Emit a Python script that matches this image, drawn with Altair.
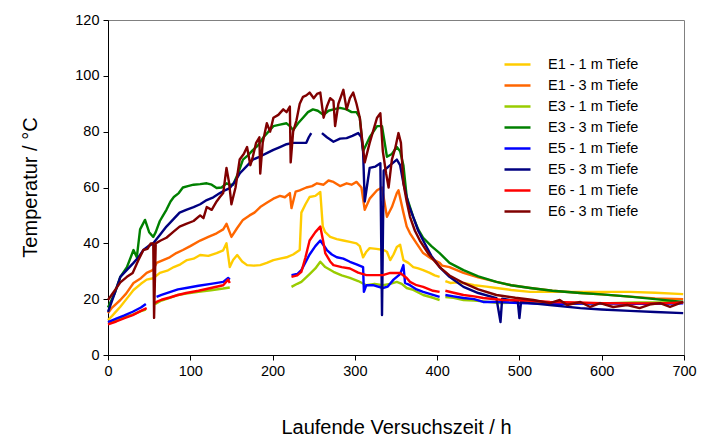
import altair as alt
import pandas as pd

# Legend / series names (in draw & legend order)
series_names = ["E1 - 1 m Tiefe", "E1 - 3 m Tiefe", "E3 - 1 m Tiefe", "E3 - 3 m Tiefe",
                "E5 - 1 m Tiefe", "E5 - 3 m Tiefe", "E6 - 1 m Tiefe", "E6 - 3 m Tiefe"]
series_colors = ["#FFCC00", "#FF6600", "#99CC00", "#008000",
                 "#0000FF", "#000080", "#FF0000", "#800000"]

# None marks a gap in the record
E1_1_h = [0, 5, 15, 25, 31, 40, 47, 55, 63, 72, 80, 88, 96, 104, 112, 122, 132, 140, 144, 148, 152, 157, 163, 169,
          177, 185, 193, 201, 209, 217, 225, 233, 235, 240, 245, 252, 258, 261, 264, 270, 278, 286, 294, 302, 306,
          310, 314, 318, 326, 335, 339, 343, 347, 351, 355, 359, 365, 371, 377, 383, 391, 397, 403, None,
          410, 416, 424, 432, 445, 460, 472, 490, 513, 540, 574, 600, 634, 665, 699]
E1_1_t = [12.5, 14, 17.3, 21, 23.3, 25.5, 27, 27.5, 29.4, 30.2, 31.5, 32.5, 34, 34.5, 35.8, 35.5, 36.5, 37.5, 40,
          31.5, 34, 35.8, 33.5, 32.2, 32, 32.2, 33, 34, 34.5, 35, 36, 37.6, 51, 54, 56.6, 57, 58.4, 46, 44, 42.3,
          41.5, 41, 40.5, 40, 39, 35, 37, 38.3, 38, 37.6, 37, 34, 36, 38.7, 39.5, 34, 33, 31.5, 31, 30.4, 29.4,
          28.5, 28, None, 26.5, 25.8, 26, 25.8, 25, 24.5, 24, 23.3, 22.6, 22.6, 22.6, 22.6, 22.6, 22.3, 21.8]

E1_3_h = [0, 5, 15, 22, 31, 40, 47, 55, 59, 67, 75, 83, 91, 100, 112, 122, 132, 140, 144, 150, 157, 164, 172, 178,
          185, 193, 201, 209, 215, 221, 223, 228, 233, 241, 248, 254, 262, 268, 274, 282, 290, 296, 302, 308, 312,
          318, 327, 333, 339, 345, 351, 353, 359, 363, 367, 375, 383, 393, 403, 406, 415, 432, 450, 472, 490, 513,
          540, 574, 600, 634, 665, 699]
E1_3_t = [15, 17, 19.7, 22, 25.8, 27.5, 29.4, 30.5, 33, 34, 35, 36.5, 37.6, 39, 41, 42.3, 43.6, 45, 47, 42.3, 45.5,
          48.4, 50, 51, 53, 54.5, 56, 57, 56.5, 58, 52.6, 58.5, 59, 60, 60.5, 61.5, 61, 62.5, 62, 60.5, 61.5, 61,
          62, 60, 52, 56, 59, 60, 49.5, 53, 58, 59, 51, 46, 43.6, 40, 36.5, 34.5, 33, 32, 31.5, 29.4, 27.8, 26.2,
          25, 24, 23, 22.2, 21.7, 20.9, 20.3, 20]

E3_1_h = [0, 10, 20, 30, 40, 46, None, 57, 65, 75, 85, 95, 110, 125, 140, 148, None,
          223, 230, 235, 245, 252, 258, 264, 274, 284, 294, 304, 314, 324, 334, 343, 351, 357, 363, 371, 383, 395,
          403, None, 410, 420, 432, 445, 456, 475, 500, 530, 560, 600, 640, 670, 699]
E3_1_t = [11.5, 12.5, 13.5, 14.5, 15.7, 16.3, None, 18.2, 19.5, 20.5, 21.5, 22, 22.6, 23.2, 23.8, 24.2, None,
          24.4, 25.5, 26.2, 29, 31, 33.4, 31.5, 29.8, 28.5, 27.6, 26.5, 25, 25.5, 25, 25.5, 26.2, 25.5, 24, 23.3,
          21.5, 20.5, 19.7, None, 20.8, 20.5, 19.7, 19.5, 19.2, 18.6, 18.8, 18.8, 18.5, 18.5, 18.8, 18.8, 19]

E3_3_h = [0, 8, 15, 23, 31, 35, 39, 45, 50, 55, 58, 63, 67, 71, 76, 80, 86, 91, 97, 104, 112, 120, 126, 132, 138,
          144, 148, 152, 158, 164, 170, 176, 182, 189, 195, 201, 209, 217, 221, 225, 231, 237, 243, 249, 255, 262,
          268, 274, 282, 290, 296, 302, 306, 310, 318, 327, 333, 339, 345, 351, 355, 359, 363, 371, 377, 383, 393,
          403, 415, 432, 450, 472, 490, 513, 540, 574, 600, 634, 665, 699]
E3_3_t = [17, 22, 28, 31.5, 37.6, 35, 45, 48.4, 44, 42.3, 44, 48, 50, 52, 55, 56.6, 58, 60, 60.5, 61, 61.2, 61.5,
          61, 59.8, 60, 61.5, 61, 61, 65, 70, 71.5, 73.4, 75, 78, 80, 82, 82.5, 83, 82, 80.6, 83, 85, 87, 88, 87.5,
          86, 87.5, 88, 88.5, 88, 87, 87, 85, 73, 78, 82, 82, 71, 72, 74.5, 73, 68, 56.6, 49.4, 45, 42, 39, 36.5,
          33, 30.4, 28.2, 26.2, 25, 24, 23, 22.2, 21.7, 20.9, 20, 19]

E5_1_h = [0, 10, 20, 30, 40, 46, None, 59, 65, 75, 85, 95, 110, 125, 140, 146, 148, None,
          223, 230, 235, 245, 252, 258, 266, 272, 278, 286, 294, 302, 310, 311, 314, 322, 334, 340, 347, 355, 359,
          361, 367, 375, 383, 395, 403, None, 410, 420, 432, 445, 456, 475, 500, 530, 560, 600, 640, 670, 699]
E5_1_t = [11.8, 13, 14.2, 15.5, 17, 18.3, None, 20.8, 21.5, 22.5, 23.5, 24, 24.8, 25.5, 26.2, 27.6, 27, None,
          28.6, 29, 30.4, 36, 39, 41, 37.6, 36, 35, 34.5, 33.4, 32.5, 31.5, 22.6, 25, 25, 24, 24.5, 27, 29, 32.2,
          25.8, 25, 23.5, 22.6, 21.5, 20.8, None, 21.5, 21, 20.4, 20, 19, 19, 18.6, 18.3, 18.3, 18.5, 18.3, 18.3,
          18.5]

E5_3_h = [0, 8, 15, 23, 31, 37, 43, 49, 55, 63, 71, 79, 87, 95, 104, 112, 120, 128, 136, 142, 148, 154, 160, 168,
          176, 184, 193, 201, 209, 217, 225, 233, 241, 244, 247, None, 260, 266, 274, 282, 290, 297, 304, 308, 310,
          312, 318, 325, 331, 333, 335, 343, 351, 355, 359, 365, 371, 377, 383, 393, 403, 415, 432, 450, 472, 477,
          479, 498, 500, 502, 513, 540, 574, 600, 634, 665, 699]
E5_3_t = [15.4, 22, 28, 30.5, 33, 35, 37.6, 39, 40, 43, 46, 48.5, 51, 52, 53, 54, 55.5, 56.5, 58, 59, 59.8, 62, 65,
          67.5, 70, 71, 72.3, 73.5, 74.5, 75.5, 76, 76, 76, 78, 79.5, None, 79.5, 78, 76.4, 77.5, 77.7, 78.5, 79.5,
          78, 73, 55, 67, 67.5, 68.7, 14.3, 66, 68, 70, 68, 61.6, 54, 49.4, 44.5, 41, 35.5, 31.5, 28, 24.4, 22.2,
          20.4, 11.8, 20.2, 19.2, 13.2, 19, 18.6, 17.8, 16.8, 16.3, 15.8, 15.4, 15]

E6_1_h = [0, 10, 20, 30, 40, 47, None, 57, 59, 65, 75, 85, 95, 110, 125, 140, 146, 148, None,
          223, 230, 235, 240, 245, 252, 258, 262, 264, 270, 274, 284, 294, 304, 314, 324, 334, 343, 351, 355, 363,
          367, 375, 383, 395, 403, None, 410, 420, 432, 445, 456, 480, 510, 537, 570, 600, 640, 670, 699]
E6_1_t = [11, 12, 13.2, 14.3, 15.8, 16.8, None, 18.6, 19, 19.8, 20.6, 21.5, 22.2, 23, 24, 25, 27, 25.8, None,
          28, 28.5, 29.8, 35, 41, 44, 46, 40, 36.5, 33.5, 32.2, 31.5, 31, 29.5, 28.6, 28.6, 28.6, 29.4, 29.4, 29.4,
          27.6, 26.2, 25, 24.4, 23, 22.6, None, 23, 22.3, 21.5, 21, 20.4, 19.7, 19.5, 19, 18.8, 18.6, 18.5, 18.5,
          18.8]

E6_3_h = [0, 8, 15, 23, 30, 37, 43, 48, 52, 55, 56, 58, 64, 71, 79, 87, 95, 104, 112, 116, 120, 126, 132, 136, 140,
          144, 147, 150, 155, 160, 165, 169, 173, 176, 180, 184, 185, 188, 193, 197, 201, 207, 213, 217, 221, 222,
          225, 229, 233, 237, 241, 245, 250, 254, 258, 262, 266, 270, 274, 276, 280, 286, 290, 294, 298, 302, 306,
          310, 312, 318, 322, 327, 331, 334, 338, 341, 345, 349, 353, 356, 359, 363, 367, 373, 379, 390, 403, 415,
          432, 450, 472, 495, 517, 537, 549, 558, 574, 586, 598, 614, 631, 646, 660, 671, 683, 699]
E6_3_t = [19.7, 23, 26, 28, 29.4, 34, 37.6, 38, 40, 40, 13.3, 40, 41, 42, 44, 46, 47, 48, 50, 49, 53, 52, 55, 56.6,
          58, 67, 62, 54, 60, 70, 72, 74.5, 68, 71, 76, 78, 65, 76, 83, 80, 85, 86, 88, 87, 89, 69, 80, 84, 90,
          92.5, 93, 94, 92, 93.5, 94, 85, 89, 92, 91, 82, 90, 95, 88, 92, 94, 90, 85, 74, 69, 76, 80, 85, 86.6, 73,
          65, 60, 70, 74, 79.5, 76, 61.6, 55, 49.5, 44.5, 41, 36, 31.5, 28.5, 25.8, 23.5, 21.5, 20.5, 19.7, 18.6,
          19.7, 17.9, 19, 17.2, 18.6, 17.2, 17.9, 16.8, 18.2, 18.6, 17.2, 19]

x_ticks = [0, 100, 200, 300, 400, 500, 600, 700]
y_ticks = [0, 20, 40, 60, 80, 100, 120]

all_series = [(E1_1_h, E1_1_t), (E1_3_h, E1_3_t), (E3_1_h, E3_1_t), (E3_3_h, E3_3_t),
              (E5_1_h, E5_1_t), (E5_3_h, E5_3_t), (E6_1_h, E6_1_t), (E6_3_h, E6_3_t)]

rows = []
order = 0
for si, (hs, ts) in enumerate(all_series):
    seg = 0
    for h, t in zip(hs, ts):
        if h is None:
            seg += 1
            continue
        rows.append({"Serie": series_names[si], "seg": f"{si}-{seg}", "h": h, "T": t,
                     "si": si, "ord": order})
        order += 1
df = pd.DataFrame(rows)

font = "Liberation Sans"

chart = alt.Chart(df).mark_line(strokeWidth=2.4, strokeJoin="round").encode(
    x=alt.X("h:Q", scale=alt.Scale(domain=[0, 700], nice=False),
            axis=alt.Axis(values=x_ticks, title="Laufende Versuchszeit / h", titleY=72,
                          titleBaseline="middle", labelFlush=False)),
    y=alt.Y("T:Q", scale=alt.Scale(domain=[0, 120], nice=False),
            axis=alt.Axis(values=y_ticks, title="Temperatur / °C", titleX=-78, titleY=167,
                          titleBaseline="middle", titleAngle=-90)),
    color=alt.Color("Serie:N", scale=alt.Scale(domain=series_names, range=series_colors),
                    legend=alt.Legend(title=None, orient="none", legendX=395, legendY=30,
                                      symbolType="stroke", symbolSize=676, symbolStrokeWidth=2.5,
                                      labelFontSize=14.5, labelOffset=16, rowPadding=-4.3,
                                      labelFont=font, labelColor="black", padding=0)),
    detail="seg:N",
    order="ord:Q",
).properties(
    width=576, height=335,
    padding={"left": 100, "top": 12, "right": 14, "bottom": 84},
    autosize=alt.AutoSizeParams(type="none"),
).configure_view(
    stroke="#808080", strokeWidth=1
).configure_axis(
    grid=False, domainColor="black", tickColor="black", tickSize=5, labelPadding=4,
    labelFontSize=14.5, labelFont=font, labelColor="black",
    titleFont=font, titleFontSize=20, titleFontWeight="normal", titleColor="black"
)

chart.save("out.html", embed_options={"renderer": "svg", "actions": False})
